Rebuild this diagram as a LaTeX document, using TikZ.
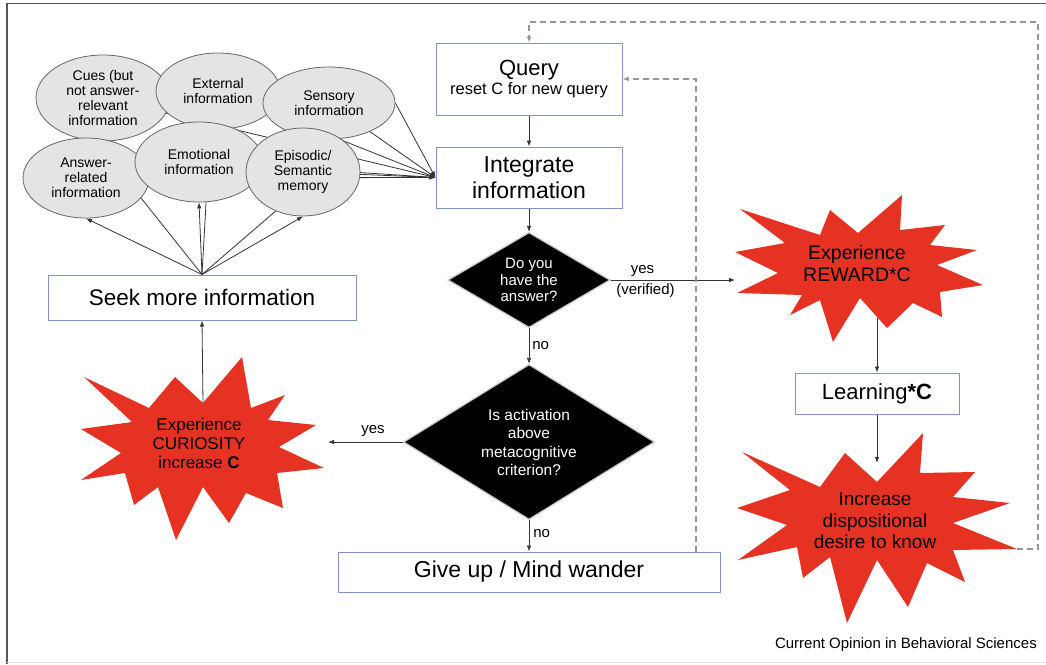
\documentclass[tikz,border=0pt]{standalone}
\usepackage{fontspec}
\setmainfont{Liberation Sans}
\usetikzlibrary{shapes.geometric,arrows.meta,backgrounds}
\definecolor{boxblue}{RGB}{128,148,200}
\definecolor{starred}{RGB}{230,50,35}
\definecolor{ellfill}{RGB}{228,228,228}
\definecolor{dashgray}{RGB}{150,150,150}
\definecolor{framegray}{RGB}{85,85,85}
\newcommand{\fs}[2]{\fontsize{#1}{#2}\selectfont}
\begin{document}
\begin{tikzpicture}[x=1pt,y=-1pt,
  box/.style={draw=boxblue, line width=1pt, fill=white, inner sep=0pt, align=center},
  ell/.style={ellipse, draw=black!60, fill=ellfill, line width=0.8pt, inner sep=0pt, align=center, font=\fs{14}{15}},
  dia/.style={diamond, fill=black, draw=gray!45, line width=1.2pt, inner sep=0pt},
  diatxt/.style={text=white, align=center, inner sep=0pt},
  arr/.style={-{Latex[length=6pt,width=4.5pt]}, line width=0.8pt, draw=black!80},
  plain/.style={line width=0.8pt, draw=black!80},
  dsh/.style={draw=dashgray, line width=1.4pt, dash pattern=on 6pt off 4pt, -{Latex[length=6pt,width=5pt]}},
  lbl/.style={font=\fs{15}{17}, inner sep=0pt},
  startxt/.style={align=center, inner sep=0pt},
  starshape/.style={fill=starred}]
\useasboundingbox (0,0) rectangle (1046,664);
% frame
\draw[framegray, line width=1.6pt] (6.7,664) -- (6.7,3.4) -- (1046,3.4);
\draw[gray!20, line width=1pt] (6.7,662.5) -- (1046,662.5);

% boxes
\node[box, minimum width=186pt, minimum height=72pt] (query) at (529,79)
  {{\fs{22}{24}Query}\\[1pt]{\fs{16.5}{18}reset C for new query}};
\node[box, minimum width=186pt, minimum height=61pt, font=\fs{23}{26}] (integ) at (529,177.5)
  {Integrate\\information};
\node[box, minimum width=308pt, minimum height=45pt, font=\fs{22.5}{26}] (seek) at (202,297.5)
  {Seek more information};
\node[box, minimum width=382pt, minimum height=40pt, font=\fs{23}{26}] (give) at (529,572)
  {Give up / Mind wander};
\node[box, minimum width=164pt, minimum height=41pt, font=\fs{22}{26}] (learn) at (877,393.5)
  {Learning\textbf{*C}};

% diamonds
\node[dia, minimum width=162pt, minimum height=95pt] (d1) at (529,280) {};
\node[diatxt, font=\fs{15}{16.5}] (d1t) at (529,280) {Do you\\have the\\answer?};
\node[dia, minimum width=251pt, minimum height=155pt] (d2) at (529,442) {};
\node[diatxt, font=\fs{15.5}{18.3}] (d2t) at (529,442.5) {Is activation\\above\\metacognitive\\criterion?};

% ellipses (top row first)
\node[ell, minimum width=134pt, minimum height=86pt] (cues) at (103,98)
  {Cues (but\\not answer-\\relevant\\information};
\node[ell, minimum width=124pt, minimum height=76pt] (ext) at (218,91)
  {External\\information};
\node[ell, minimum width=132pt, minimum height=72pt] (sens) at (329,103)
  {Sensory\\information};
\node[ell, minimum width=126pt, minimum height=80pt] (ans) at (86,178)
  {Answer-\\related\\information};
\node[ell, minimum width=128pt, minimum height=80pt] (emo) at (199,162)
  {Emotional\\information};
\node[ell, minimum width=114pt, minimum height=88pt] (epi) at (303,172)
  {Episodic/\\Semantic\\memory};

% stars
\fill[starshape] (735,252) -- (785,243) -- (740,209) -- (820,235) -- (830,210) -- (858,233)
  -- (902,195) -- (900,230) -- (945,225) -- (930,245) -- (977,250) -- (937,265)
  -- (983,285) -- (940,292) -- (942,317) -- (913,303) -- (887,328) -- (860,298)
  -- (833,342) -- (820,300) -- (790,315) -- (802,295) -- (737,293) -- (778,273) -- cycle;
\node[startxt, font=\fs{19.5}{22}] (rew) at (857,264) {Experience\\REWARD*C};

\fill[starshape] (84,377) -- (149,408) -- (175,377) -- (203,403) -- (242,357) -- (251,408)
  -- (285,395) -- (268,420) -- (316,425) -- (279,447) -- (324,468) -- (277,473)
  -- (283,508) -- (246,493) -- (229,523) -- (203,487) -- (176,540) -- (158,487)
  -- (134,505) -- (125,473) -- (81,480) -- (121,453) -- (81,429) -- (132,422) -- cycle;
\node[startxt, font=\fs{17}{19}] (cur) at (199,443) {Experience\\CURIOSITY\\increase \textbf{C}};

\fill[starshape] (742,452) -- (820,487) -- (845,453) -- (877,482) -- (923,433) -- (920,473)
  -- (975,472) -- (953,497) -- (1010,503) -- (953,523) -- (1017,549) -- (953,550)
  -- (965,582) -- (927,563) -- (908,607) -- (877,560) -- (847,623) -- (830,557)
  -- (803,578) -- (797,547) -- (738,560) -- (787,525) -- (737,508) -- (790,490) -- cycle;
\node[startxt, font=\fs{19}{21.5}] (des) at (875,521) {Increase\\dispositional\\desire to know};

% coordinates
\coordinate (rewin) at (735,280);
\coordinate (rewbot) at (877,318);
\coordinate (desin) at (877,463);
\coordinate (curtop) at (203,403);
\coordinate (curin) at (328,442);
\coordinate (gq) at (696,552);
\coordinate (dk) at (1017,549);

% background lines
\begin{scope}[on background layer]
  \draw[arr] (cues.center) -- (integ.west);
  \draw[arr] (ext.center) -- (integ.west);
  \draw[arr] (sens.center) -- (integ.west);
  \draw[arr] (sens.east) -- (integ.west);
  \draw[arr] (ans.center) -- (integ.west);
  \draw[arr] (emo.center) -- (integ.west);
  \draw[arr] (epi.center) -- (integ.west);
  \draw[plain] (seek.north) -- (ans.-20);
  \draw[plain] (seek.north) -- (emo.-80);
  \draw[plain] (seek.north) -- (epi.-125);
\end{scope}
\draw[arr] (seek.north) -- (ans.south);
\draw[arr] (seek.north) -- (emo.south);
\draw[arr] (seek.north) -- (epi.south);

% flow arrows
\draw[arr] (query) -- (integ);
\draw[arr] (integ) -- (d1);
\draw[arr] (d1.east) -- node[lbl, above=3pt, pos=0.256] (lyes1) {yes}
  node[lbl, below=3pt, pos=0.28] (lver) {(verified)} (rewin);
\draw[arr] (d1.south) -- node[lbl, right=3pt] (lno1) {no} (d2.north);
\draw[arr] (d2.west) -- node[lbl, above=5pt, pos=0.4] (lyes2) {yes} (curin);
\draw[arr] (d2.south) -- node[lbl, right=4pt, pos=0.42] (lno2) {no} (give.north);
\draw[arr] (curtop) -- (seek.south);
\draw[arr] (rewbot) -- (learn.north);
\draw[arr] (learn.south) -- (desin);

% dashed feedback
\draw[dsh] (gq) |- (query.east);
\draw[dsh] (dk) -- (1038,549) -- (1038,22) -| (query.north);

% credit
\node[anchor=east, inner sep=0pt, font=\fs{15}{17}] (credit) at (1037,645) {Current Opinion in Behavioral Sciences};
\end{tikzpicture}
\end{document}
